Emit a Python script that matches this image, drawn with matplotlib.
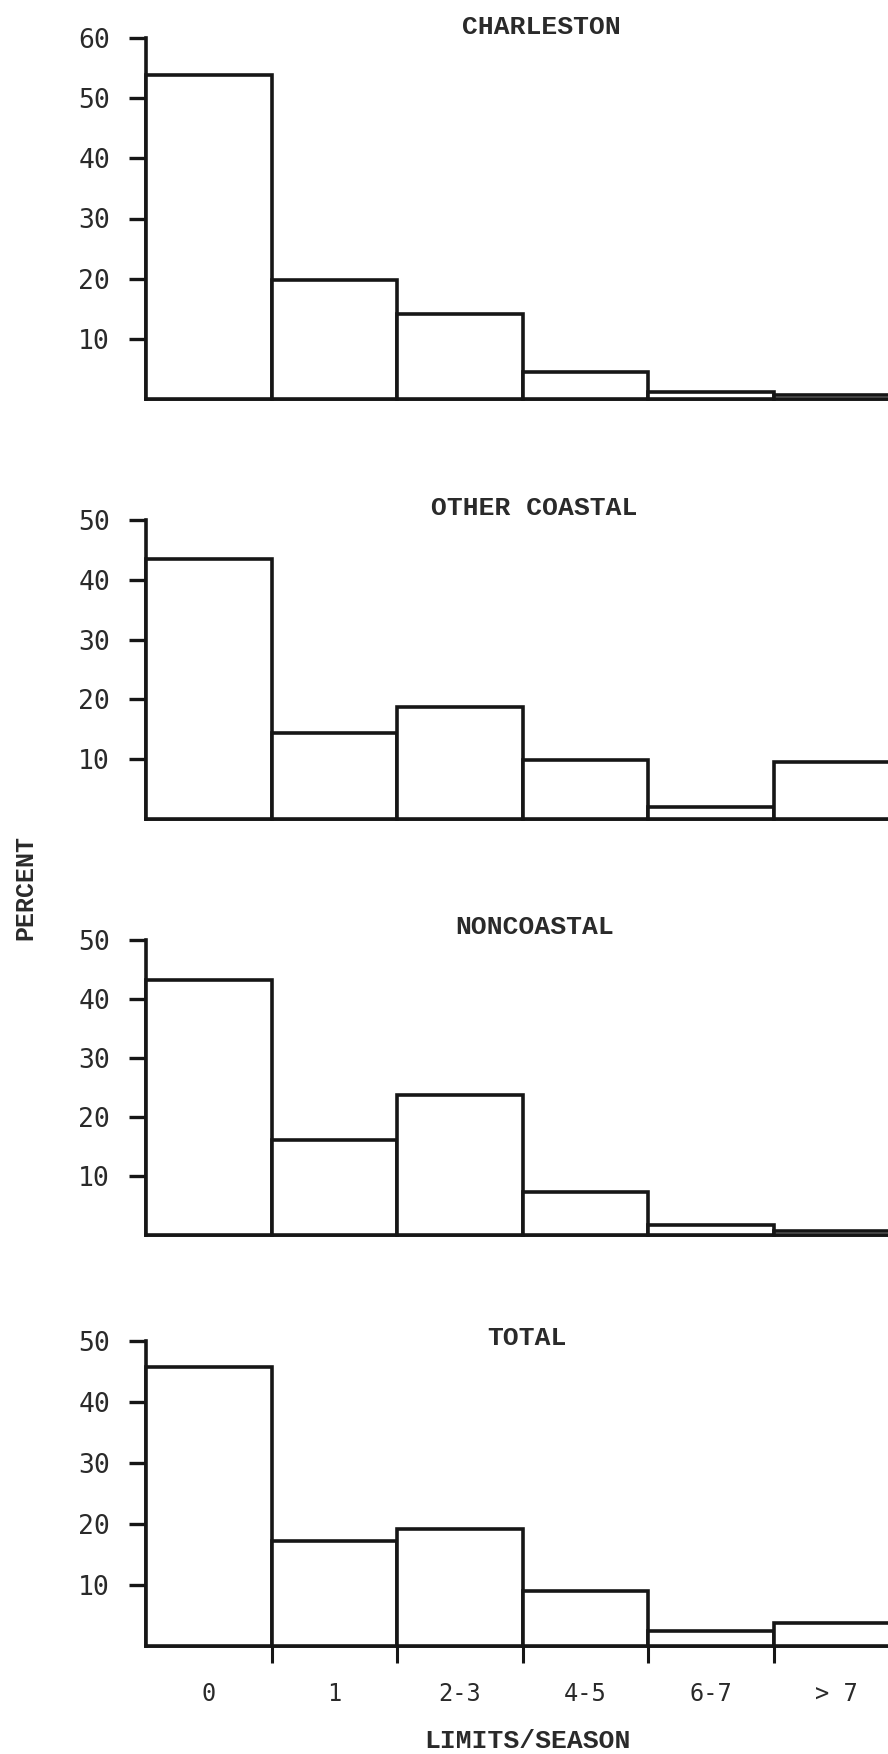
"""
Distribution of limits taken per season, by region.

Four stacked histogram panels (Charleston, other coastal, noncoastal, total)
sharing the same limits/season classes.
Output: out.png
"""

import matplotlib.pyplot as plt
import numpy as np

# ------------------------------------------------------------------
# data (percent of respondents in each limits/season class)
# ------------------------------------------------------------------
categories = ["0", "1", "2-3", "4-5", "6-7", "> 7"]

charleston = [53.8, 19.7, 14.2, 4.5, 1.1, 0.7]
other_coastal = [43.4, 14.4, 18.8, 9.8, 2.0, 9.5]
noncoastal = [43.2, 16.1, 23.7, 7.3, 1.7, 0.7]
total = [45.7, 17.2, 19.1, 9.0, 2.5, 3.8]

panel_titles = ["CHARLESTON", "OTHER COASTAL", "NONCOASTAL", "TOTAL"]
panel_values = [charleston, other_coastal, noncoastal, total]
panel_ymax = [60, 50, 50, 50]

# ------------------------------------------------------------------
# layout, in pixels of an 888 x 1754 page
# ------------------------------------------------------------------
W, H = 888, 1754
DPI = 100
AX_LEFT = 146
AX_WIDTH = 753          # runs a little past the right page edge
# (baseline y, top-of-axis y, title centre x, title centre y)
PANELS = [
    (399, 38, 541, 27),
    (819, 520, 534, 508),
    (1235, 940, 535, 927),
    (1646, 1341, 527, 1338),
]

INK = "#161616"
TEXT = "#2a2a2a"
TYPE_FONT = ["Liberation Mono", "DejaVu Sans Mono"]
NUM_FONT = ["DejaVu Sans Mono", "DejaVu Sans"]


def px_rect(left, top, width, height):
    """Pixel box (top-left origin) -> figure fraction rect."""
    return [left / W, (H - top - height) / H, width / W, height / H]


def main():
    fig = plt.figure(figsize=(W / DPI, H / DPI), dpi=DPI)
    fig.patch.set_facecolor("white")

    n = len(categories)
    edges = np.arange(n)
    centres = edges + 0.5

    for i, (title, vals, ymax) in enumerate(zip(panel_titles, panel_values, panel_ymax)):
        base, top, tx, ty = PANELS[i]
        ax = fig.add_axes(px_rect(AX_LEFT, top, AX_WIDTH, base - top))
        ax.set_xlim(0, n)
        ax.set_ylim(0, ymax)
        ax.patch.set_alpha(0)

        ax.bar(edges, vals, width=1.0, align="edge", facecolor="white",
               edgecolor=INK, linewidth=2.6, clip_on=False, zorder=3)

        for side in ("top", "right"):
            ax.spines[side].set_visible(False)
        for side in ("left", "bottom"):
            ax.spines[side].set_color(INK)
            ax.spines[side].set_linewidth(2.6)

        ax.set_yticks(np.arange(10, ymax + 1, 10))
        ax.tick_params(axis="y", direction="out", length=12, width=2.4,
                       color=INK, pad=14, labelsize=19, labelcolor=TEXT)
        for lab in ax.get_yticklabels():
            lab.set_family(NUM_FONT)

        if i == len(panel_titles) - 1:
            # class boundaries get ticks, class names sit between them
            ax.set_xticks(edges[1:].tolist() + [n])
            ax.set_xticklabels([])
            ax.tick_params(axis="x", which="major", direction="out",
                           length=12, width=2.2, color=INK)
            ax.set_xticks(centres, minor=True)
            ax.set_xticklabels(categories, minor=True)
            ax.tick_params(axis="x", which="minor", length=0, pad=26,
                           labelsize=17, labelcolor=TEXT)
            for lab in ax.get_xticklabels(minor=True):
                lab.set_family(NUM_FONT)
        else:
            ax.set_xticks([])

        fig.text(tx / W, 1 - ty / H, title, ha="center", va="center",
                 fontsize=19, fontweight="bold", color=TEXT, family=TYPE_FONT)

    fig.text(25 / W, 1 - 887 / H, "PERCENT", rotation=90, ha="center",
             va="center", fontsize=18, fontweight="bold", color=TEXT,
             family=TYPE_FONT)
    fig.text(527 / W, 1 - 1741 / H, "LIMITS/SEASON", ha="center",
             va="center", fontsize=19, fontweight="bold", color=TEXT,
             family=TYPE_FONT)

    fig.savefig("out.png", dpi=DPI, facecolor="white")
    plt.close(fig)


if __name__ == "__main__":
    main()
